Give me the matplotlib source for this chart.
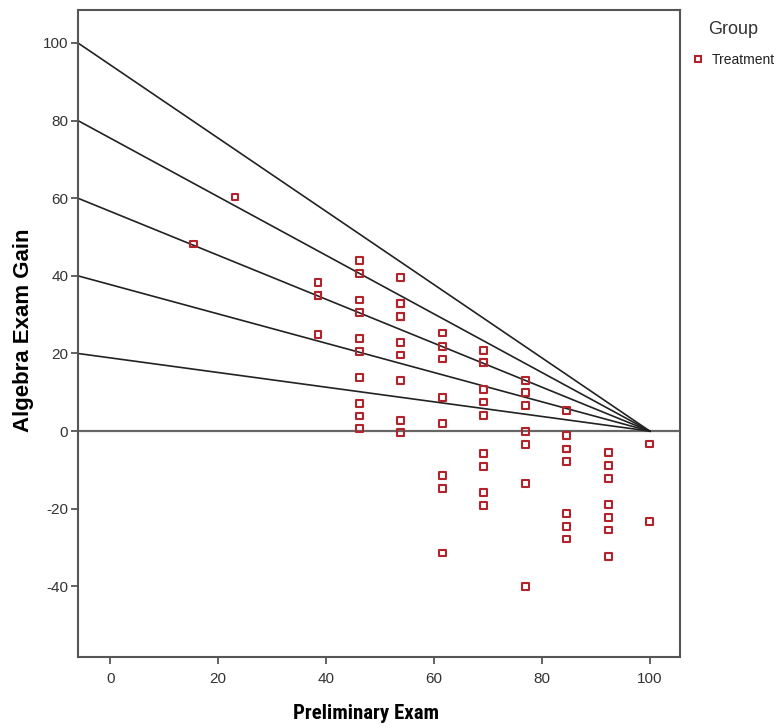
import matplotlib
matplotlib.use("Agg")
import matplotlib.pyplot as plt
from matplotlib.lines import Line2D
from matplotlib import font_manager as fm

plt.rcParams['font.family'] = ['Liberation Sans', 'DejaVu Sans']
plt.rcParams['axes.unicode_minus'] = False

# Data: preliminary exam score (x) and algebra exam gain (y)
prelim = ([15.4] + [23.1] + [38.5] * 4 + [46.2] * 10 + [53.8] * 10 + [61.5] * 8 +
          [69.2] * 10 + [76.9] * 7 + [84.6] * 8 + [92.3] * 7 + [100.0] * 2)
gain = ([48.2] +
        [60.3] +
        [38.3, 34.9, 34.9, 24.9] +
        [43.9, 40.6, 33.8, 30.6, 23.9, 20.6, 13.9, 7.2, 3.9, 0.6] +
        [39.6, 32.9, 32.9, 29.5, 29.5, 22.9, 19.6, 13.0, 2.8, -0.4] +
        [25.3, 21.8, 18.6, 8.6, 1.9, -11.4, -14.8, -31.4] +
        [20.8, 17.6, 17.6, 10.7, 7.5, 4.1, -5.8, -9.2, -15.8, -19.1] +
        [13.1, 9.9, 6.5, -0.2, -3.5, -13.5, -40.1] +
        [5.4, -1.2, -4.6, -4.6, -7.9, -21.2, -24.6, -27.8] +
        [-5.6, -8.9, -12.3, -18.9, -22.2, -25.5, -32.3] +
        [-3.3, -23.2])

# Reference lines: start levels on the left, converging to zero at 100
line_starts = [20, 40, 60, 80, 100]
line_end_x = 100

x_ticks = [0, 20, 40, 60, 80, 100]
y_ticks = [-40, -20, 0, 20, 40, 60, 80, 100]
xlim = (-6, 105.6)
ylim = (-58.2, 108.5)

marker_color = '#B3232B'
axis_color = '#555555'

# find a narrow bold font for the x label if available
narrow_fp = None
for f in fm.fontManager.ttflist:
    nm = f.name.lower()
    if ('narrow' in nm or 'condensed' in nm or
            str(f.stretch).lower() in ('condensed', 'semi-condensed', '75', '87')) \
            and str(f.weight) in ('bold', '700') and f.style == 'normal' \
            and 'extra' not in nm and 'mono' not in nm:
        narrow_fp = f.fname
        if 'liberation' in nm:
            break

fig = plt.figure(figsize=(7.83, 7.28), dpi=100)
ax = fig.add_axes([0.0996, 0.0975, 0.7689, 0.8888])

ax.set_xlim(*xlim)
ax.set_ylim(*ylim)

for k in line_starts:
    ax.plot([xlim[0], line_end_x], [k, 0], color='#222222', lw=1.2, zorder=2)

ax.axhline(0, color='#666666', lw=1.6, zorder=1)

ax.scatter(prelim, gain, marker='s', s=24, facecolors='none',
           edgecolors=marker_color, linewidths=1.5, zorder=3)

ax.set_xticks(x_ticks)
ax.set_yticks(y_ticks)
ax.tick_params(axis='both', direction='out', length=5, width=1.3,
               color=axis_color, labelcolor='#333333', labelsize=11)
ax.tick_params(axis='y', pad=2)
ax.tick_params(axis='x', pad=6)
for s in ax.spines.values():
    s.set_color(axis_color)
    s.set_linewidth(1.5)

if narrow_fp:
    xl_fp = fm.FontProperties(fname=narrow_fp, size=15)
else:
    xl_fp = fm.FontProperties(family='Liberation Sans', weight='bold', size=13)
ax.set_xlabel('Preliminary Exam', fontproperties=xl_fp)
ax.xaxis.set_label_coords(0.478, -0.073)
ax.set_ylabel('Algebra Exam Gain', fontsize=16, fontweight='bold')
ax.yaxis.set_label_coords(-0.073, 0.505)

fig.text(733 / 783, 1 - 30 / 728, 'Group', fontsize=13, color='#333333',
         ha='center', va='center')
handle = Line2D([], [], marker='s', linestyle='none', markersize=5,
                markerfacecolor='none', markeredgecolor=marker_color,
                markeredgewidth=1.5)
leg = fig.legend([handle], ['Treatment'], loc='center left',
                 bbox_to_anchor=(691 / 783, 1 - 60 / 728), frameon=False,
                 fontsize=10, handlelength=1.0, handletextpad=0.5,
                 borderaxespad=0, borderpad=0)
for t in leg.get_texts():
    t.set_color('#222222')

fig.savefig('out.png', dpi=100)
